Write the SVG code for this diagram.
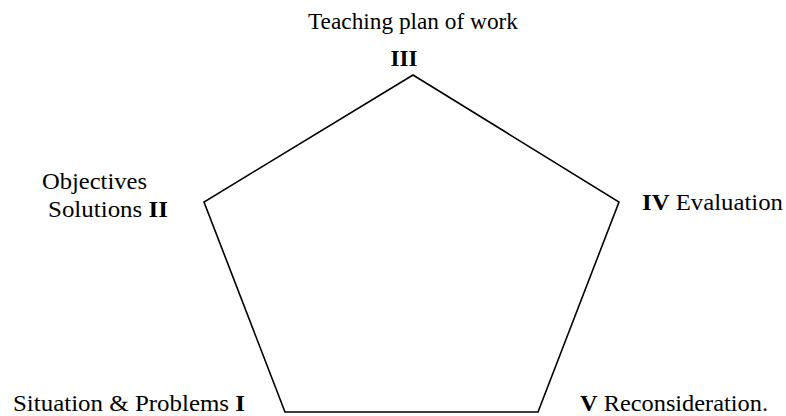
<svg xmlns="http://www.w3.org/2000/svg" width="786" height="416" viewBox="0 0 786 416">
<style>
text{font-family:"Liberation Serif","Times New Roman",serif;font-size:23px;fill:#000}
.b{font-weight:bold}
.edge{fill:none;stroke:#000;stroke-width:1.6;stroke-linejoin:miter}
</style>
<rect width="786" height="416" fill="#fff"/>
<g id="connectors">
<polygon class="edge" points="413,75 619,202 538,412 285,412 204,202"/>
</g>
<g id="node-III">
<text x="308" y="29" textLength="210" lengthAdjust="spacingAndGlyphs">Teaching plan of work</text>
<text class="b" x="404" y="66" text-anchor="middle">III</text>
</g>
<g id="node-II">
<text x="42" y="189" textLength="105" lengthAdjust="spacingAndGlyphs">Objectives</text>
<text x="48" y="217" textLength="120" lengthAdjust="spacingAndGlyphs">Solutions <tspan class="b">II</tspan></text>
</g>
<g id="node-IV">
<text x="642" y="210" textLength="141" lengthAdjust="spacingAndGlyphs"><tspan class="b">IV</tspan> Evaluation</text>
</g>
<g id="node-I">
<text x="13" y="411" textLength="232" lengthAdjust="spacingAndGlyphs">Situation &amp; Problems <tspan class="b">I</tspan></text>
</g>
<g id="node-V">
<text x="580" y="411" textLength="188" lengthAdjust="spacingAndGlyphs"><tspan class="b">V</tspan> Reconsideration.</text>
</g>
</svg>
